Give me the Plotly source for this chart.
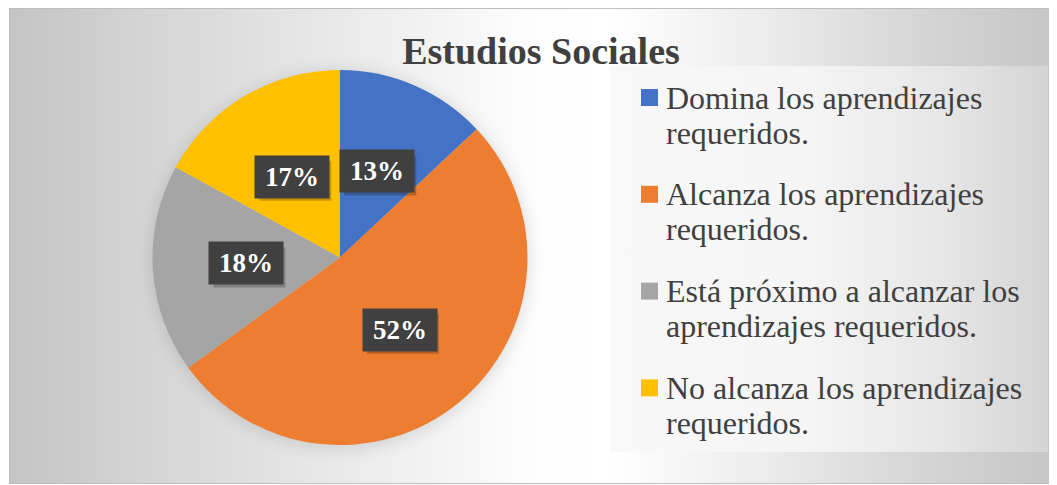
import base64
import math
import plotly.graph_objects as go

# ---------------- data ----------------
TITLE = "Estudios Sociales"
labels = [
    "Domina los aprendizajes requeridos.",
    "Alcanza los aprendizajes requeridos.",
    "Está próximo a alcanzar los aprendizajes requeridos.",
    "No alcanza los aprendizajes requeridos.",
]
legend_lines = [
    ["Domina los aprendizajes", "requeridos."],
    ["Alcanza los aprendizajes", "requeridos."],
    ["Está próximo a alcanzar los", "aprendizajes requeridos."],
    ["No alcanza los aprendizajes", "requeridos."],
]
values = [13, 52, 18, 17]
colors = ["#4472C4", "#ED7D31", "#A5A5A5", "#FFC000"]

# ---------------- layout constants ----------------
# the page body has an 8px margin, so the figure starts at (8, 8) of the window
OFF = 8
W, H = 1057 - OFF, 485 - OFF
CX, CY, R = 340.0, 257.5, 187.5          # pie centre / radius in window px
SERIF = "Liberation Serif, Times New Roman, serif"
TXT = "#404040"
BOX_W, BOX_H = 72, 40


def px(x):
    return (x - OFF) / W


def py(y):
    return 1 - (y - OFF) / H


def sx(x):
    return x - OFF


def sy(y):
    return y - OFF


# ---------------- background (gradients) as an SVG image ----------------
svg = f'''<svg xmlns="http://www.w3.org/2000/svg" width="{W}" height="{H}" viewBox="0 0 {W} {H}">
<defs>
 <linearGradient id="bg" gradientUnits="userSpaceOnUse" x1="{sx(9)}" y1="0" x2="{sx(1056)}" y2="0">
  <stop offset="0" stop-color="#c4c4c4"/>
  <stop offset="0.18" stop-color="#dadada"/>
  <stop offset="0.36" stop-color="#eeeeee"/>
  <stop offset="0.50" stop-color="#fdfdfd"/>
  <stop offset="0.57" stop-color="#ffffff"/>
  <stop offset="0.72" stop-color="#ececec"/>
  <stop offset="0.89" stop-color="#d2d2d2"/>
  <stop offset="1" stop-color="#c6c6c6"/>
 </linearGradient>
 <linearGradient id="lg" x1="0" y1="0" x2="1" y2="0">
  <stop offset="0" stop-color="#f8f8f8"/>
  <stop offset="0.45" stop-color="#f5f5f5"/>
  <stop offset="0.75" stop-color="#e7e7e7"/>
  <stop offset="1" stop-color="#d4d4d4"/>
 </linearGradient>
 <filter id="blur" x="-20%" y="-20%" width="140%" height="140%">
  <feGaussianBlur stdDeviation="7"/>
 </filter>
</defs>
<rect x="0" y="0" width="{W}" height="{H}" fill="#ffffff"/>
<rect x="{sx(9.5)}" y="{sy(8.5)}" width="1046" height="475" fill="url(#bg)" stroke="#bdbdbd" stroke-width="1"/>
<circle cx="{sx(CX)}" cy="{sy(CY + 2)}" r="{R + 3}" fill="#000000" fill-opacity="0.10" filter="url(#blur)"/>
<rect x="{sx(610)}" y="{sy(66)}" width="438" height="386" fill="url(#lg)"/>
</svg>'''
bg_uri = "data:image/svg+xml;base64," + base64.b64encode(svg.encode("utf-8")).decode()

# ---------------- figure ----------------
fig = go.Figure()
fig.add_trace(go.Pie(
    labels=labels,
    values=values,
    marker=dict(colors=colors, line=dict(width=0)),
    sort=False,
    direction="clockwise",
    rotation=0,
    textinfo="none",
    hoverinfo="label+percent",
    showlegend=False,
    domain=dict(x=[px(CX - R), px(CX + R)], y=[py(CY + R), py(CY - R)]),
))

annotations = []
shapes = []
# data labels: at half radius along the middle angle of each slice
total = float(sum(values))
cum = 0.0
for v in values:
    mid = (cum + v / 2.0) / total * 2 * math.pi
    cum += v
    lx = CX + 0.5 * R * math.sin(mid)
    ly = CY - 0.5 * R * math.cos(mid)
    # soft drop shadow of the label box
    shapes.append(dict(type="rect", xref="paper", yref="paper", layer="above",
                       x0=px(lx - BOX_W / 2 + 3), x1=px(lx + BOX_W / 2 + 3),
                       y0=py(ly + BOX_H / 2 + 4), y1=py(ly - BOX_H / 2 + 4),
                       fillcolor="rgba(0,0,0,0.22)", line=dict(width=0)))
    annotations.append(dict(
        x=px(lx), y=py(ly), xref="paper", yref="paper", showarrow=False,
        xanchor="center", yanchor="middle",
        width=BOX_W, height=BOX_H, bgcolor="#404040",
        text=f"<b>{round(100 * v / total)}%</b>",
        font=dict(family=SERIF, size=27, color="#ffffff")))

# legend (manual, to match the original spacing)
LEG_Y0, LEG_PITCH, LINE_H = 97.5, 96.8, 35.0
for i, (lines, col) in enumerate(zip(legend_lines, colors)):
    yc = LEG_Y0 + i * LEG_PITCH
    shapes.append(dict(type="rect", xref="paper", yref="paper",
                       x0=px(641), x1=px(658), y0=py(yc + 8.5), y1=py(yc - 8.5),
                       fillcolor=col, line=dict(width=0)))
    for j, line in enumerate(lines):
        annotations.append(dict(
            x=px(664), y=py(yc + j * LINE_H), xref="paper", yref="paper",
            showarrow=False, xanchor="left", yanchor="middle", align="left",
            text=line, font=dict(family=SERIF, size=32, color=TXT)))

fig.update_layout(
    width=W, height=H,
    margin=dict(l=0, r=0, t=0, b=0),
    paper_bgcolor="#ffffff",
    plot_bgcolor="rgba(0,0,0,0)",
    title=dict(text=f"<b>{TITLE}</b>", x=px(541), xanchor="center",
               y=py(51), yanchor="middle",
               font=dict(family=SERIF, size=38, color=TXT)),
    images=[dict(source=bg_uri, xref="paper", yref="paper", x=0, y=1,
                 sizex=1, sizey=1, xanchor="left", yanchor="top",
                 sizing="stretch", layer="below")],
    annotations=annotations,
    shapes=shapes,
)

fig.write_html("out.html")
